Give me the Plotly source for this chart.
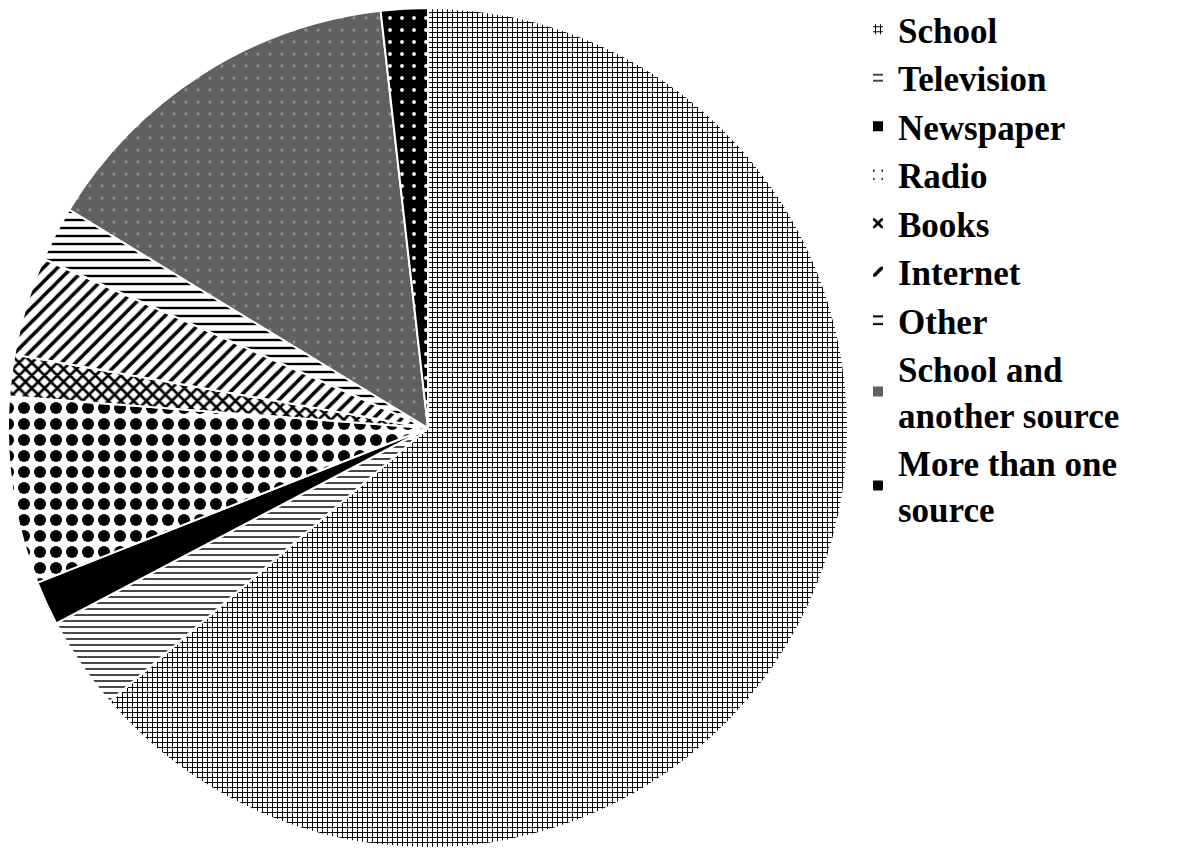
import plotly.graph_objects as go

labels = ["School", "Television", "Newspaper", "Radio", "Books", "Internet", "Other",
          "School and<br>another source", "More than one<br>source"]
values = [63.7, 3.6, 1.7, 7.2, 1.6, 3.8, 2.1, 14.5, 1.8]

shapes = ["+", "-", "", ".", "x", "/", "-", ".", "."]
fg = ["#000000", "#333333", "#000000", "#000000", "#000000", "#000000", "#000000", "#8c8c8c", "#ffffff"]
bg = ["#ffffff", "#ffffff", "#000000", "#ffffff", "#ffffff", "#ffffff", "#ffffff", "#606060", "#000000"]
sizes = [5, 6, 8, 16, 9, 10, 8, 12, 12]
solid = [0.35, 0.3, 0.5, 0.45, 0.5, 0.35, 0.3, 0.06, 0.08]
fills = ["#ffffff", "#ffffff", "#000000", "#ffffff", "#ffffff", "#ffffff", "#ffffff", "#606060", "#000000"]

fig = go.Figure(go.Pie(
    labels=labels, values=values, sort=False, direction="clockwise", rotation=0,
    textinfo="none", hoverinfo="label+percent",
    marker=dict(colors=fills, line=dict(color="#ffffff", width=2),
                pattern=dict(shape=shapes, fgcolor=fg, bgcolor=bg, size=sizes, solidity=solid)),
    domain=dict(x=[6/1183, 850/1183], y=[0, 840/848]),
))

fig.update_layout(
    width=1183, height=848,
    margin=dict(l=0, r=0, t=0, b=0),
    paper_bgcolor="#ffffff", plot_bgcolor="#ffffff",
    showlegend=True,
    legend=dict(x=858/1183, y=1.0, xanchor="left", yanchor="top", maxheight=1,
                font=dict(family="Liberation Serif", size=35, color="#000000", weight="bold"),
                tracegroupgap=0, itemsizing="constant"),
)

fig.write_html("out.html")
